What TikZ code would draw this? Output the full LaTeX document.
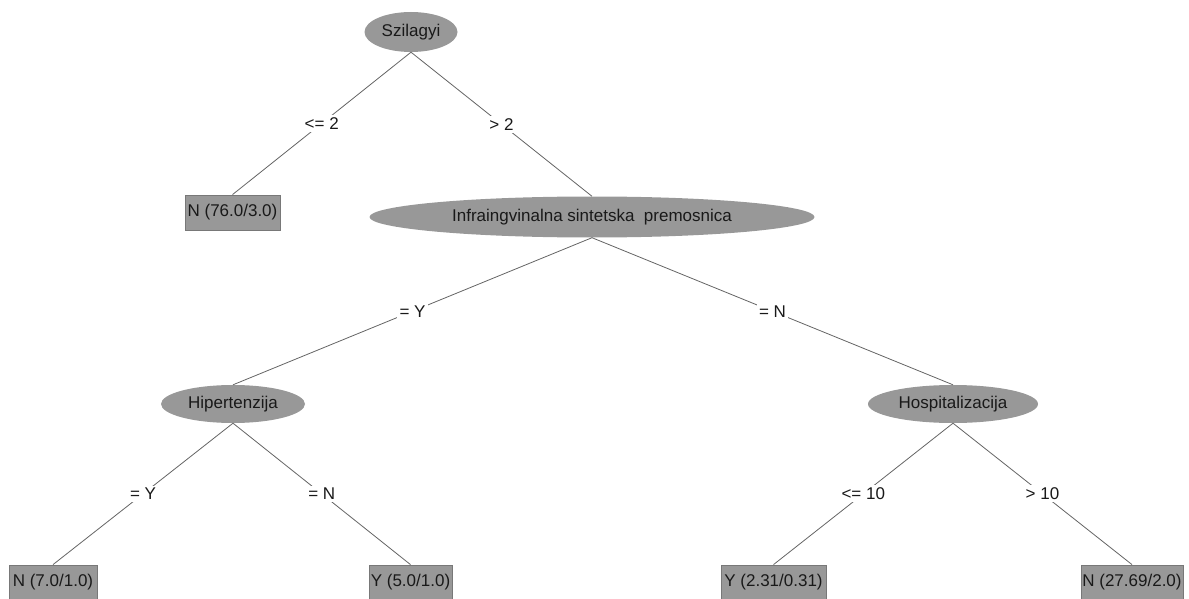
\documentclass[tikz,border=0pt]{standalone}
\usepackage{fontspec}
\setmainfont{Liberation Sans}
\usetikzlibrary{shapes.geometric}
\definecolor{nodegray}{RGB}{152,152,152}
\definecolor{edgegray}{RGB}{100,100,100}
\definecolor{boxline}{RGB}{120,120,120}
\definecolor{txt}{RGB}{25,25,25}
\tikzset{
  inner/.style={ellipse, fill=nodegray, draw=none, inner sep=0pt, text=txt, font=\fontsize{17}{20}\selectfont},
  leaf/.style={rectangle, fill=nodegray, draw=boxline, line width=0.8pt, inner sep=0pt, minimum height=34pt, text=txt, font=\fontsize{17}{20}\selectfont},
  edge/.style={draw=edgegray, line width=0.8pt},
  elabel/.style={fill=white, inner sep=2.5pt, text=txt, font=\fontsize{17}{20}\selectfont}
}
\begin{document}
\begin{tikzpicture}[x=1pt,y=-1pt]
\useasboundingbox (0,0) rectangle (1189,599);
% inner nodes
\node[inner, minimum width=93pt, minimum height=40pt] (s) at (411,32) {Szilagyi};
\node[inner, minimum width=445pt, minimum height=41pt] (i) at (592,217) {Infraingvinalna sintetska\ \ premosnica};
\node[inner, minimum width=144pt, minimum height=38pt] (h) at (233,404) {Hipertenzija};
\node[inner, minimum width=170pt, minimum height=38pt] (o) at (953,404) {Hospitalizacija};
% leaves
\node[leaf, minimum width=95pt, minimum height=35pt] (l1) at (232.5,212.5) {N (76.0/3.0)};
\node[leaf, minimum width=88pt] (l2) at (53,582) {N (7.0/1.0)};
\node[leaf, minimum width=83pt] (l3) at (410.5,582) {Y (5.0/1.0)};
\node[leaf, minimum width=105pt] (l4) at (773.5,582) {Y (2.31/0.31)};
\node[leaf, minimum width=102pt] (l5) at (1132,582) {N (27.69/2.0)};
% edges
\draw[edge] (s.south) -- node[elabel] {<= 2} (l1.north);
\draw[edge] (s.south) -- node[elabel] {> 2} (i.north);
\draw[edge] (i.south) -- node[elabel] {= Y} (h.north);
\draw[edge] (i.south) -- node[elabel] {= N} (o.north);
\draw[edge] (h.south) -- node[elabel] {= Y} (l2.north);
\draw[edge] (h.south) -- node[elabel] {= N} (l3.north);
\draw[edge] (o.south) -- node[elabel] {<= 10} (l4.north);
\draw[edge] (o.south) -- node[elabel] {> 10} (l5.north);
\end{tikzpicture}
\end{document}
